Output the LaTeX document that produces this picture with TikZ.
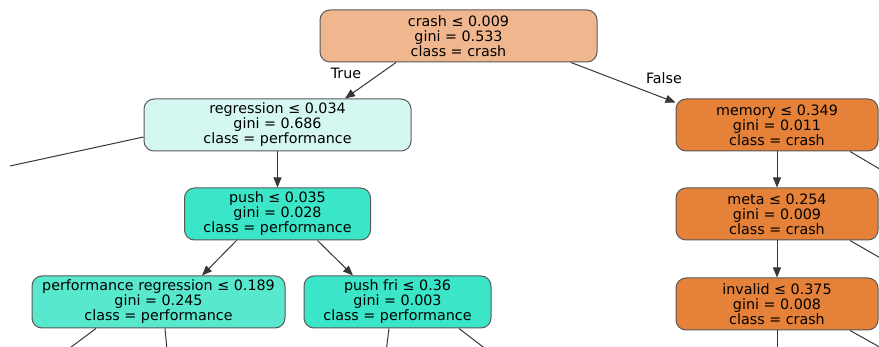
\documentclass[tikz,border=0pt]{standalone}
\usepackage{fontspec}
\setmainfont{DejaVu Sans}
\usepackage{xcolor}
\usetikzlibrary{arrows.meta, positioning, calc}

\definecolor{crashpale}{RGB}{240,183,142}
\definecolor{crashfull}{RGB}{229,129,57}
\definecolor{perfpale}{RGB}{212,248,241}
\definecolor{perfmid}{RGB}{88,232,205}
\definecolor{perffull}{RGB}{59,229,199}
\definecolor{edgegray}{RGB}{55,55,55}

\begin{document}
\begin{tikzpicture}[
    x=1pt, y=1pt,
    tnode/.style={draw=black!65, line width=1pt, rounded corners=10pt, minimum height=52pt, inner sep=0pt, align=center, font=\fontsize{14.3}{15}\selectfont},
    split/.style={-{Triangle[length=10pt, width=8pt]}, draw=edgegray, line width=1pt},
    cut/.style={draw=edgegray, line width=1pt},
    lbl/.style={font=\fontsize{14.3}{15}\selectfont}
]
\path[use as bounding box, clip] (0,0) rectangle (879,-347);

% Root
\node[tnode, fill=crashpale, minimum width=277pt] (root) at (458.5,-36) {crash ≤ 0.009\\gini = 0.533\\class = crash};

% Second level
\node[tnode, fill=perfpale, minimum width=267pt] (regr) at (277.5,-125) {regression ≤ 0.034\\gini = 0.686\\class = performance};
\node[tnode, fill=crashfull, minimum width=202pt] (memory) at (777,-125) {memory ≤ 0.349\\gini = 0.011\\class = crash};

% Performance branch
\node[tnode, fill=perffull, minimum width=186pt, below=36pt of regr] (push) {push ≤ 0.035\\gini = 0.028\\class = performance};
\node[tnode, fill=perfmid, minimum width=253pt] (perfregr) at (158.5,-302) {performance regression ≤ 0.189\\gini = 0.245\\class = performance};
\node[tnode, fill=perffull, minimum width=187pt, right=18pt of perfregr] (pushfri) {push fri ≤ 0.36\\gini = 0.003\\class = performance};

% Crash branch
\node[tnode, fill=crashfull, minimum width=202pt, below=36pt of memory] (meta) {meta ≤ 0.254\\gini = 0.009\\class = crash};
\node[tnode, fill=crashfull, minimum width=202pt, below=37pt of meta] (invalid) {invalid ≤ 0.375\\gini = 0.008\\class = crash};

% Edge labels
\node[lbl] (truelbl) at (346,-73) {True};
\node[lbl] (falselbl) at (664,-78) {False};

% Free ends outside the crop
\coordinate (offleft) at (10,-166);
\coordinate (offmemory) at (910,-187);
\coordinate (offmeta) at (910,-275);
\coordinate (offinvalid) at (910,-364);
\coordinate (offdown) at (777,-360);
\coordinate (offperfa) at (55,-359);
\coordinate (offperfb) at (168,-360);
\coordinate (offfria) at (385,-360);
\coordinate (offfrib) at (500,-360);

% Edges
\draw[split] ($(root.south)+(-62.5,0)$) -- ($(regr.north)+(67.5,0)$);
\draw[split] ($(root.south)+(112.5,0)$) -- ($(memory.north west)+(0,-4)$);
\draw[cut] ($(regr.west)+(0,-12)$) -- (offleft);
\draw[split] (regr) -- (push);
\draw[split] ($(push.south)+(-41,0)$) -- ($(perfregr.north)+(43.5,0)$);
\draw[split] ($(push.south)+(40,0)$) -- ($(pushfri.north)+(-44.5,0)$);
\draw[split] (memory) -- (meta);
\draw[split] (meta) -- (invalid);
\draw[cut] ($(memory.south)+(73,0)$) -- (offmemory);
\draw[cut] ($(meta.south)+(73,0)$) -- (offmeta);
\draw[cut] ($(invalid.south)+(73,0)$) -- (offinvalid);
\draw[cut] (invalid) -- (offdown);
\draw[cut] ($(perfregr.south)+(-62.5,0)$) -- (offperfa);
\draw[cut] ($(perfregr.south)+(6.5,0)$) -- (offperfb);
\draw[cut] ($(pushfri.south)+(-8.5,0)$) -- (offfria);
\draw[cut] ($(pushfri.south)+(61.5,0)$) -- (offfrib);
\end{tikzpicture}
\end{document}
